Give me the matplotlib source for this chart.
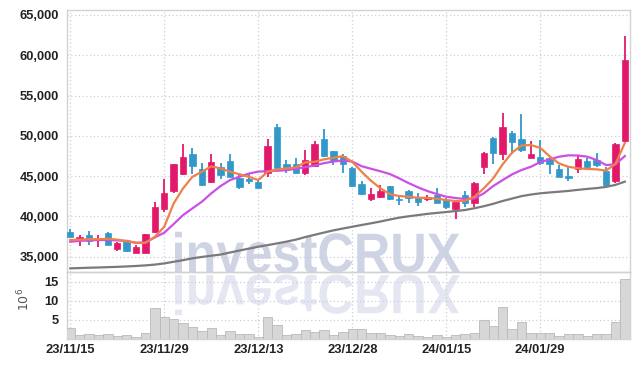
import numpy as np
import matplotlib
matplotlib.use('Agg')
import matplotlib.pyplot as plt
from matplotlib.textpath import TextPath
from matplotlib.patches import PathPatch
from matplotlib.font_manager import FontProperties
from matplotlib.transforms import Affine2D
from matplotlib.ticker import FuncFormatter

# daily candles (trading-day index 0..59)
opens = [38080, 37170, 37630, 37050, 37880, 35890, 36890, 35470, 35470, 38010,
         40900, 43140, 45290, 47730, 45930, 44270, 46100, 46810, 44800, 44600,
         44220, 45330, 51120, 46490, 46490, 45330, 46280, 49600, 48080, 47520,
         46030, 44000, 42100, 42350, 43760, 42180, 43140, 42350, 42100, 42640,
         42020, 40900, 42640, 41610, 46100, 49700, 47790, 50380, 49600, 47260,
         47320, 47190, 45900, 45040, 45860, 46820, 46980, 45660, 44320, 49380]
highs = [38400, 37710, 38170, 37630, 38000, 36800, 36900, 36470, 37800, 41730,
         44590, 46500, 49010, 48420, 46590, 47760, 46650, 47760, 45140, 45250,
         44520, 49550, 51420, 46990, 47200, 48250, 49400, 50800, 48080, 47720,
         46150, 44410, 43550, 43880, 43760, 42640, 43260, 42850, 42640, 43470,
         42270, 41900, 43200, 44200, 48000, 49880, 52880, 50630, 52710, 49380,
         49420, 47450, 46370, 46150, 47630, 47190, 47820, 46150, 49070, 62340]
lows = [37380, 36300, 36430, 36140, 36400, 35730, 35560, 35470, 35400, 37880,
        40560, 42850, 45120, 45190, 43720, 44140, 44600, 44830, 43400, 44050,
        43560, 44840, 45620, 45410, 45330, 45120, 46150, 47400, 46320, 45330,
        43590, 42640, 41890, 42270, 42020, 41400, 41600, 41230, 41930, 41600,
        40900, 39620, 41190, 41190, 45190, 46520, 46990, 47690, 48020, 47190,
        46370, 45190, 44820, 44320, 45330, 45850, 46150, 43720, 44120, 49260]
closes = [37460, 37420, 36900, 37210, 36470, 36640, 35720, 36140, 37760, 41150,
          42890, 46490, 47400, 46280, 43850, 46760, 45070, 44910, 43680, 44340,
          43560, 48760, 46030, 45950, 45410, 46990, 49000, 47530, 46880, 46490,
          43800, 42760, 42760, 43140, 42100, 42060, 42230, 41810, 42350, 41600,
          41190, 41810, 41690, 44170, 47910, 47910, 51080, 49260, 48270, 47730,
          46650, 46490, 44910, 44790, 47070, 46150, 46360, 43920, 48990, 59350]

# volume, millions of shares
volume = [2.7, 0.85, 1.2, 0.85, 1.1, 0.6, 0.85, 0.3, 1.4, 8.0,
          5.6, 5.1, 4.1, 3.0, 2.0, 2.7, 0.85, 2.0, 1.2, 1.2,
          0.5, 5.6, 3.6, 0.85, 1.2, 2.2, 1.7, 2.2, 0.85, 1.7,
          2.5, 2.5, 1.45, 1.45, 0.85, 0.6, 1.2, 0.6, 0.5, 0.85,
          0.5, 0.85, 1.2, 1.55, 4.9, 3.3, 8.2, 2.4, 4.3, 1.45,
          1.45, 1.45, 0.6, 1.2, 1.2, 0.6, 1.2, 1.2, 4.3, 15.7]

# moving averages as drawn on the chart
ma_short = [37050, 37100, 37150, 37150, 37200, 37100, 36900, 36700, 36700, 37460,
            38700, 41600, 43470, 44910, 45530, 46200, 45950, 45530, 45220, 44900,
            44500, 45530, 45830, 45950, 46070, 46690, 46770, 47070, 47270, 47480,
            46770, 45530, 44410, 43470, 42760, 42510, 42430, 42300, 42280, 42180,
            42020, 41890, 41930, 42430, 43470, 44710, 46450, 47900, 48800, 48850,
            48500, 47450, 46560, 46150, 45960, 45880, 45830, 45670, 46500, 49100]
ma_mid = [36840, 36950, 37000, 37050, 37050, 37000, 36950, 36700, 36760, 37380,
          37960, 39040, 40150, 40990, 41810, 42850, 43760, 44500, 44910, 45300,
          45550, 45600, 45660, 45720, 45900, 46100, 46310, 46600, 46800, 46930,
          46800, 46220, 45900, 45590, 45250, 44710, 44120, 43590, 43130, 42760,
          42430, 42270, 42140, 42220, 42850, 43760, 44500, 45200, 45740, 46150,
          46730, 47060, 47400, 47570, 47550, 47400, 46990, 46370, 46450, 47480]
ma_long = [33530, 33570, 33610, 33640, 33680, 33720, 33770, 33830, 33900, 34000,
           34150, 34350, 34550, 34780, 34950, 35100, 35250, 35500, 35750, 35980,
           36220, 36420, 36630, 36850, 37100, 37420, 37700, 37980, 38250, 38480,
           38700, 38920, 39130, 39350, 39600, 39830, 40000, 40150, 40300, 40420,
           40530, 40650, 40780, 41000, 41250, 41550, 41900, 42200, 42500, 42700,
           42850, 42960, 43050, 43150, 43280, 43400, 43500, 43650, 43900, 44300]

date_labels = ['23/11/15', '23/11/29', '23/12/13', '23/12/28', '24/01/15', '24/01/29']
date_idx = [0, 10, 20, 30, 40, 50]

UP = '#e2196b'
DOWN = '#3298ca'
GRID = '#ccceDD'
SPINE = '#d2d2d2'

plt.rcParams['font.family'] = ['Liberation Sans', 'DejaVu Sans']

W, H = 639, 367
fig = plt.figure(figsize=(W / 100, H / 100), dpi=100)
fig.patch.set_facecolor('white')
ax = fig.add_axes([67 / W, 1 - 272 / H, 563 / W, 262 / H])
axv = fig.add_axes([67 / W, 1 - 338.5 / H, 563 / W, 66.5 / H], sharex=ax)
for a in (ax, axv):
    a.set_facecolor('none')
    for s in a.spines.values():
        s.set_color(SPINE)
        s.set_linewidth(1)

# watermark with mirror image
wm = TextPath((0, 0), 'investCRUX', size=100,
              prop=FontProperties(family='Liberation Sans', weight='bold'))
bb = wm.get_extents()
sx = 285 / bb.width
sy = 40 / 72.0
tr = (Affine2D().translate(-bb.x0, 0).scale(sx, sy).translate(175, H - 272)
      + Affine2D().scale(1 / W, 1 / H) + fig.transFigure)
fig.add_artist(PathPatch(wm, transform=tr, fc='#cfd4e5', ec='none', zorder=-2))
tr2 = (Affine2D().translate(-bb.x0, 0).scale(sx, -sy).translate(175, H - 275)
       + Affine2D().scale(1 / W, 1 / H) + fig.transFigure)
fig.add_artist(PathPatch(wm, transform=tr2, fc='#e4e7f1', ec='none', zorder=-2))

x = np.arange(len(opens))
o = np.array(opens)
c = np.array(closes)
up = c >= o
colors = np.where(up, UP, DOWN)

ax.vlines(x, lows, highs, colors=colors, lw=1.3, zorder=3)
body = np.maximum(np.abs(c - o), 60)
ax.bar(x, body, bottom=np.minimum(o, c), width=0.68, color=colors,
       edgecolor=colors, lw=0.5, zorder=4)

ax.plot(x, ma_long, color='#7a7a7a', lw=1.6, zorder=5)
ax.plot(x, ma_mid, color='#cc4fe6', lw=1.6, zorder=5)
ax.plot(x, ma_short, color='#ef8148', lw=1.6, zorder=5)

ax.set_ylim(33080, 65620)
ax.set_yticks(np.arange(35000, 65001, 5000))
ax.yaxis.set_major_formatter(FuncFormatter(lambda v, p: f'{int(v):,}'))
ax.set_xlim(-0.35, 59.55)
ax.set_xticks(date_idx)
ax.tick_params(axis='x', labelbottom=False, length=0)
ax.tick_params(axis='y', length=0, pad=6, labelsize=9.3, labelcolor='#222222')
ax.grid(True, linestyle=(0, (1, 2)), color=GRID, lw=0.9)
ax.set_axisbelow(True)

axv.bar(x, volume, width=1.0, color='#d7d7d7', edgecolor='#b9b9b9', lw=0.6, zorder=3)
axv.set_ylim(0, 17.5)
axv.set_yticks([5, 10, 15])
axv.set_xticks(date_idx)
axv.set_xticklabels(date_labels)
axv.tick_params(axis='both', length=0, labelsize=9.3, labelcolor='#222222')
axv.tick_params(axis='x', pad=4)
axv.tick_params(axis='y', pad=6)
axv.grid(True, linestyle=(0, (1, 2)), color=GRID, lw=0.9)
axv.set_axisbelow(True)
axv.set_ylabel('10$^6$', fontsize=9, color='#555555', family='DejaVu Sans')
axv.yaxis.set_label_coords(-0.062, 0.58)

for lab in ax.get_yticklabels() + axv.get_yticklabels() + axv.get_xticklabels():
    lab.set_fontweight('bold')

fig.savefig('out.png', dpi=100)
